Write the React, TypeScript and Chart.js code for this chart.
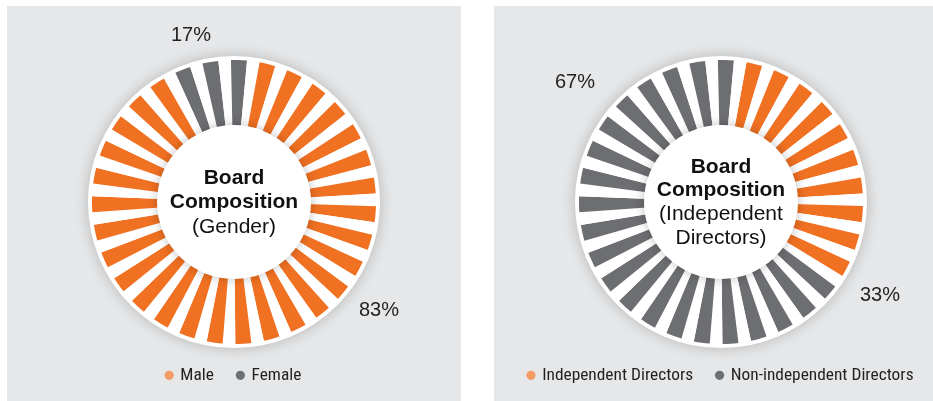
import React, { useEffect, useRef } from 'react';
import { Chart, registerables } from 'chart.js';

Chart.register(...registerables);

// ---- data ----
const genderLabels = ['Male', 'Female'];
const genderPercents = ['83%', '17%'];
const genderSpokes = [28, 3];

const independenceLabels = ['Independent Directors', 'Non-independent Directors'];
const independencePercents = ['33%', '67%'];
const independenceSpokes = [10, 21];

// ---- style ----
const ORANGE = '#F17122';
const GRAY = '#6D6E71';
const LEGEND_ORANGE = '#F59B66';
const LEGEND_GRAY = '#6E6F72';
const PANEL_BG = '#E6E7E8';
const TEXT = '#231F20';
const BAR_FRACTION = 0.56;
const OUTER_R = 142;
const W = 454;
const H = 395;

const SANS = '"Liberation Sans", Arial, Helvetica, sans-serif';

// pick a condensed face for the legend if one is installed
type LegendFont = { weight: string; family: string; size: number; spacing: string };
function pickLegendFont(): LegendFont {
  const target = 151; // px width of "Independent Directors" in the reference
  const sample = 'Independent Directors';
  const c = document.createElement('canvas').getContext('2d') as CanvasRenderingContext2D;
  c.font = `18px ${SANS}`;
  const base = c.measureText(sample).width;
  const candidates = [
    { weight: 'condensed', family: '"Roboto Condensed", Roboto' },
    { weight: 'condensed', family: '"Noto Sans Condensed", "Noto Sans"' },
    { weight: 'condensed', family: '"Open Sans Condensed", "Open Sans"' },
    { weight: 'normal', family: '"Liberation Sans Narrow"' },
    { weight: 'condensed', family: '"DejaVu Sans Condensed", "DejaVu Sans"' },
  ];
  for (const cand of candidates) {
    c.font = `${cand.weight} 18px ${cand.family}, serif`;
    const w = c.measureText(sample).width;
    if (w < base * 0.9 && w > 100) {
      const size = Math.max(16, Math.min(20, (18 * target) / w));
      return { weight: cand.weight, family: cand.family + ', ' + SANS, size, spacing: '0px' };
    }
  }
  // fallback: regular face tightened with letter spacing
  c.font = `17px ${SANS}`;
  const w17 = c.measureText(sample).width;
  const ls = (target - w17) / sample.length;
  return { weight: 'normal', family: SANS, size: 17, spacing: `${ls.toFixed(2)}px` };
}

type Cfg = {
  labels: string[];
  percents: string[];
  spokes: number[];
  order: number[];
  firstSpokeDeg: number;
  centerLines: { text: string; bold: boolean; y: number }[];
  percentPos: { x: number; y: number }[];
};

const genderCfg: Cfg = {
  labels: genderLabels,
  percents: genderPercents,
  spokes: genderSpokes,
  order: [1, 0],
  firstSpokeDeg: -21.2,
  centerLines: [
    { text: 'Board', bold: true, y: 172 },
    { text: 'Composition', bold: true, y: 196 },
    { text: '(Gender)', bold: false, y: 221 },
  ],
  percentPos: [
    { x: 372, y: 304 },
    { x: 184, y: 29 },
  ],
};

const independenceCfg: Cfg = {
  labels: independenceLabels,
  percents: independencePercents,
  spokes: independenceSpokes,
  order: [0, 1],
  firstSpokeDeg: 13.6,
  centerLines: [
    { text: 'Board', bold: true, y: 161 },
    { text: 'Composition', bold: true, y: 184.5 },
    { text: '(Independent', bold: false, y: 208 },
    { text: 'Directors)', bold: false, y: 232 },
  ],
  percentPos: [
    { x: 386, y: 289 },
    { x: 81, y: 76 },
  ],
};

const barColors = [ORANGE, GRAY];
const legendColors = [LEGEND_ORANGE, LEGEND_GRAY];

function Ring({ cfg }: { cfg: Cfg }) {
  const ref = useRef<HTMLCanvasElement>(null);

  useEffect(() => {
    const lf = pickLegendFont();
    const total = cfg.spokes.reduce((a, b) => a + b, 0);
    const pitch = 360 / total;
    const data: number[] = [];
    const bg: string[] = [];
    cfg.order.forEach((c) => {
      for (let i = 0; i < cfg.spokes[c]; i++) {
        data.push(BAR_FRACTION);
        bg.push(barColors[c]);
        data.push(1 - BAR_FRACTION);
        bg.push('#FFFFFF');
      }
    });

    const spacingPlugin = {
      id: 'legendSpacing',
      beforeInit(chart: any) {
        (chart.ctx as any).letterSpacing = lf.spacing;
      },
      beforeDraw(chart: any) {
        (chart.ctx as any).letterSpacing = lf.spacing;
      },
    };

    const decor = {
      id: 'decor',
      beforeDatasetsDraw(chart: any) {
        const arc = chart.getDatasetMeta(0).data[0];
        const { ctx } = chart;
        ctx.save();
        ctx.shadowColor = 'rgba(0,0,0,0.22)';
        ctx.shadowBlur = 14;
        ctx.fillStyle = '#FFFFFF';
        ctx.beginPath();
        ctx.arc(arc.x, arc.y, arc.outerRadius + 4, 0, Math.PI * 2);
        ctx.fill();
        ctx.restore();
      },
      afterDatasetsDraw(chart: any) {
        const arc = chart.getDatasetMeta(0).data[0];
        const { ctx } = chart;
        ctx.save();
        ctx.shadowColor = 'rgba(0,0,0,0.25)';
        ctx.shadowBlur = 12;
        ctx.fillStyle = '#FFFFFF';
        ctx.beginPath();
        ctx.arc(arc.x, arc.y, 77, 0, Math.PI * 2);
        ctx.fill();
        ctx.restore();

        ctx.save();
        (ctx as any).letterSpacing = '0px';
        ctx.fillStyle = '#111111';
        ctx.textAlign = 'center';
        ctx.textBaseline = 'middle';
        cfg.centerLines.forEach((l) => {
          ctx.font = `${l.bold ? 'bold ' : ''}21px ${SANS}`;
          ctx.fillText(l.text, arc.x, l.y);
        });
        ctx.fillStyle = TEXT;
        ctx.font = `20px ${SANS}`;
        cfg.percents.forEach((p, i) => {
          ctx.fillText(p, cfg.percentPos[i].x, cfg.percentPos[i].y);
        });
        ctx.restore();
      },
    };

    const chart = new Chart(ref.current as HTMLCanvasElement, {
      type: 'doughnut',
      data: {
        labels: data.map((_, i) => String(i)),
        datasets: [
          {
            data,
            backgroundColor: bg,
            borderWidth: 0,
            hoverOffset: 0,
          },
        ],
      },
      options: {
        responsive: false,
        maintainAspectRatio: false,
        animation: false,
        events: [],
        radius: OUTER_R,
        cutout: '50%',
        rotation: cfg.firstSpokeDeg - (BAR_FRACTION * pitch) / 2,
        layout: { padding: { top: 55.4, bottom: 7, left: 0, right: 0 } },
        plugins: {
          tooltip: { enabled: false },
          legend: {
            display: true,
            position: 'bottom',
            onClick: () => {},
            labels: {
              usePointStyle: true,
              boxWidth: 5,
              boxHeight: 6.5,
              padding: 24,
              color: TEXT,
              font: { size: lf.size, family: lf.family, weight: lf.weight },
              generateLabels: () =>
                cfg.labels.map((t, i) => ({
                  text: t,
                  fillStyle: legendColors[i],
                  strokeStyle: legendColors[i],
                  lineWidth: 0,
                  pointStyle: 'circle',
                  hidden: false,
                  index: i,
                  fontColor: TEXT,
                })),
            },
          },
        },
      } as any,
      plugins: [spacingPlugin, decor],
    });
    return () => chart.destroy();
  }, [cfg]);

  return <canvas ref={ref} width={W} height={H} style={{ display: 'block', width: W, height: H }} />;
}

export default function App() {
  return (
    <div style={{ position: 'fixed', left: 0, top: 0, width: 933, height: 401, overflow: 'hidden', background: '#FFFFFF' }}>
      <div style={{ position: 'absolute', left: 7, top: 6, width: W, height: H, background: PANEL_BG }}>
        <Ring cfg={genderCfg} />
      </div>
      <div style={{ position: 'absolute', left: 494, top: 6, width: W, height: H, background: PANEL_BG }}>
        <Ring cfg={independenceCfg} />
      </div>
    </div>
  );
}
